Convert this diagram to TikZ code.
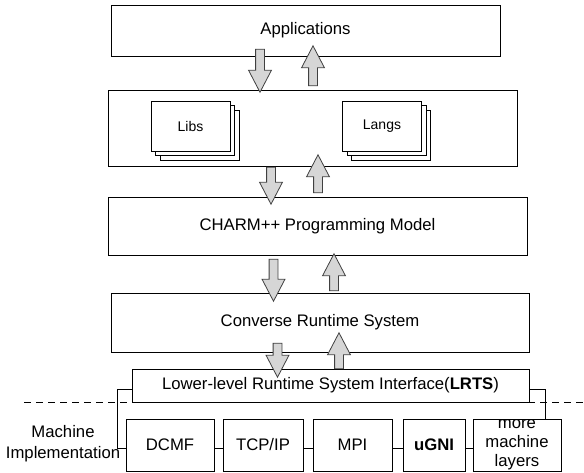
\documentclass[tikz,border=0pt]{standalone}
\usepackage{fontspec}
\setmainfont{Liberation Sans}
\usetikzlibrary{shapes.arrows,shadows}
\tikzset{
    layer-box/.style = {draw=black, fill=white, line width=1pt, rectangle, inner sep=0pt, font=\fontsize{16.7}{19}\selectfont},
    stack-box/.style = {layer-box, minimum width=79pt, minimum height=50pt, font=\fontsize{14}{16}\selectfont,
        copy shadow={shadow xshift=9pt, shadow yshift=-9pt, draw=black, fill=white, line width=1pt, opacity=1},
        copy shadow={shadow xshift=4.5pt, shadow yshift=-4.5pt, draw=black, fill=white, line width=1pt, opacity=1}},
    mach-box/.style = {layer-box, minimum height=52pt},
    block-arrow/.style = {single arrow, draw=black!75, fill=black!16, line width=0.8pt, inner xsep=0pt, inner ysep=4pt,
        minimum width=8pt, single arrow head extend=7pt, single arrow tip angle=55},
    link/.style = {draw=black, line width=1pt},
}

\begin{document}
\begin{tikzpicture}[x=1pt, y=-1pt]
\useasboundingbox (0,0) rectangle (584,472);

% software layers
\node[layer-box, minimum width=389pt, minimum height=51pt] (apps) at (305.5,30.5) {Applications};
\node[layer-box, minimum width=409pt, minimum height=76pt] (libs-layer) at (312.5,128) {};
\node[stack-box] (libs) at (190.5,126) {Libs};
\node[stack-box] (langs) at (382,126) {Langs};
\node[layer-box, minimum width=419pt, minimum height=58pt] (charm) at (317.5,226) {CHARM++ Programming Model};
\node[layer-box, minimum width=418pt, minimum height=59pt] (converse) at (320,322.5) {Converse Runtime System};
\node[layer-box, minimum width=397pt, minimum height=33pt] (lrts) at (330.5,385.5) {Lower-level Runtime System Interface(\textbf{LRTS})};

% up and down arrows between the layers
\foreach \name/\x/\ytail/\ytip in {app-down/260/45/88, app-up/313/90/50, lib-down/271/163/200, lib-up/318/197/159,
    charm-down/273.5/255/297, charm-up/334/295/258, conv-down/277.5/339/373, conv-up/339/373/337}
{
    \pgfmathsetmacro\len{abs(\ytip-\ytail)}
    \pgfmathsetmacro\ang{ifthenelse(\ytip>\ytail,-90,90)}
    \pgfmathsetmacro\ymid{(\ytail+\ytip)/2}
    \node[block-arrow, minimum height=\len, rotate=\ang] (\name) at (\x,\ymid) {};
}

% machine layers
\coordinate (cut-l) at (24,402);
\coordinate (cut-r) at (584,402);
\draw[dashed, dash pattern=on 7pt off 5pt, line width=1pt] (cut-l) -- (cut-r);

\node[align=center, font=\fontsize{16.7}{21}\selectfont] (mach-label) at (63,444) {Machine\\Implementation};
\node[mach-box, minimum width=88pt] (dcmf) at (170,445) {DCMF};
\node[mach-box, minimum width=80pt] (tcpip) at (263,445) {TCP/IP};
\node[mach-box, minimum width=79pt] (mpi) at (352.5,445) {MPI};
\node[mach-box, minimum width=62pt] (ugni) at (434,445) {\textbf{uGNI}};
\node[mach-box, minimum width=88pt] (more) at (517,445) {};
\node[align=center, font=\fontsize{16.7}{19}\selectfont] (more-text) at (more) {more\\machine\\layers};

\draw[link] ([yshift=-3pt]dcmf.east) -- ([yshift=-3pt]tcpip.west);
\draw[link] ([yshift=-3pt]tcpip.east) -- ([yshift=-3pt]mpi.west);
\draw[link] ([yshift=-3pt]mpi.east) -- ([yshift=-3pt]ugni.west);
\draw[link] ([yshift=-3pt]ugni.east) -- ([yshift=-3pt]more.west);
\draw[link] ([yshift=-4pt]lrts.west) -- ++(-14,0) |- ([yshift=-3pt]dcmf.west);
\draw[link] ([yshift=-4pt]lrts.east) -| ([xshift=28pt]more.north);
\end{tikzpicture}
\end{document}
